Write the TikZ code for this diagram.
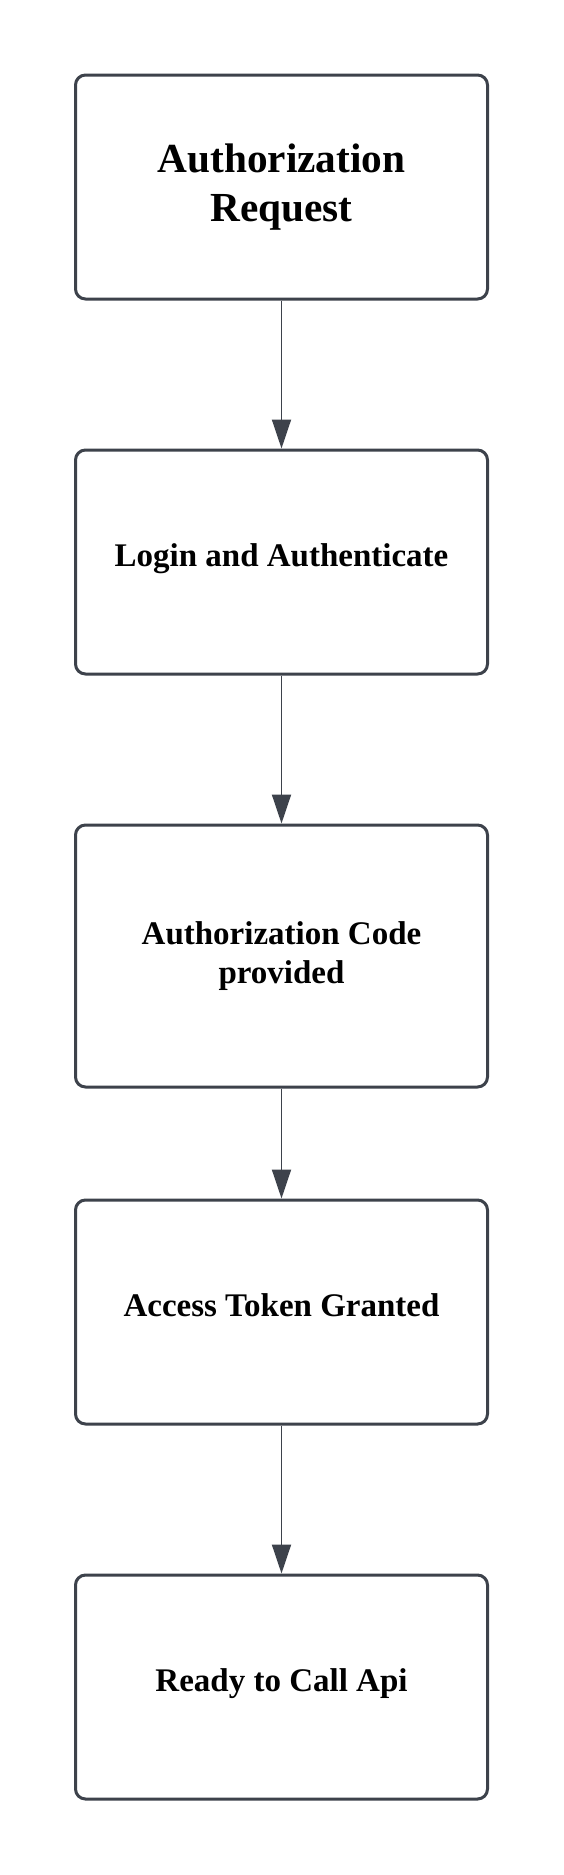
\documentclass[tikz,border=0pt]{standalone}
\usepackage{fontspec}
\setmainfont{Liberation Serif}
\usetikzlibrary{arrows.meta}
\definecolor{edgegray}{HTML}{3D424B}
\tikzset{
  stepbox/.style={draw=edgegray, line width=3pt, rounded corners=10pt,
    minimum width=412pt, minimum height=224pt, align=center,
    font=\bfseries\fontsize{33}{39}\selectfont, text=black, fill=white},
  oneline/.style={text height=22pt, text depth=14pt},
  titlefont/.style={font=\bfseries\fontsize{41.3}{49}\selectfont},
  flow/.style={draw=edgegray, line width=1.9pt,
    -{Triangle[width=19pt,length=29pt]}}
}
\begin{document}
\begin{tikzpicture}[x=1pt,y=1pt]
\useasboundingbox (0,0) rectangle (563,-1875);
\fill[white] (0,0) rectangle (563,-1875);
\node[stepbox, titlefont] (b1) at (281.5,-187) {Authorization\\Request};
\node[stepbox, oneline] (b2) at (281.5,-562) {Login and Authenticate};
\node[stepbox, minimum height=262pt] (b3) at (281.5,-956) {Authorization Code\\provided};
\node[stepbox, oneline] (b4) at (281.5,-1312) {Access Token Granted};
\node[stepbox, oneline] (b5) at (281.5,-1687) {Ready to Call Api};
\draw[flow] (b1) -- (b2);
\draw[flow] (b2) -- (b3);
\draw[flow] (b3) -- (b4);
\draw[flow] (b4) -- (b5);
\end{tikzpicture}
\end{document}
